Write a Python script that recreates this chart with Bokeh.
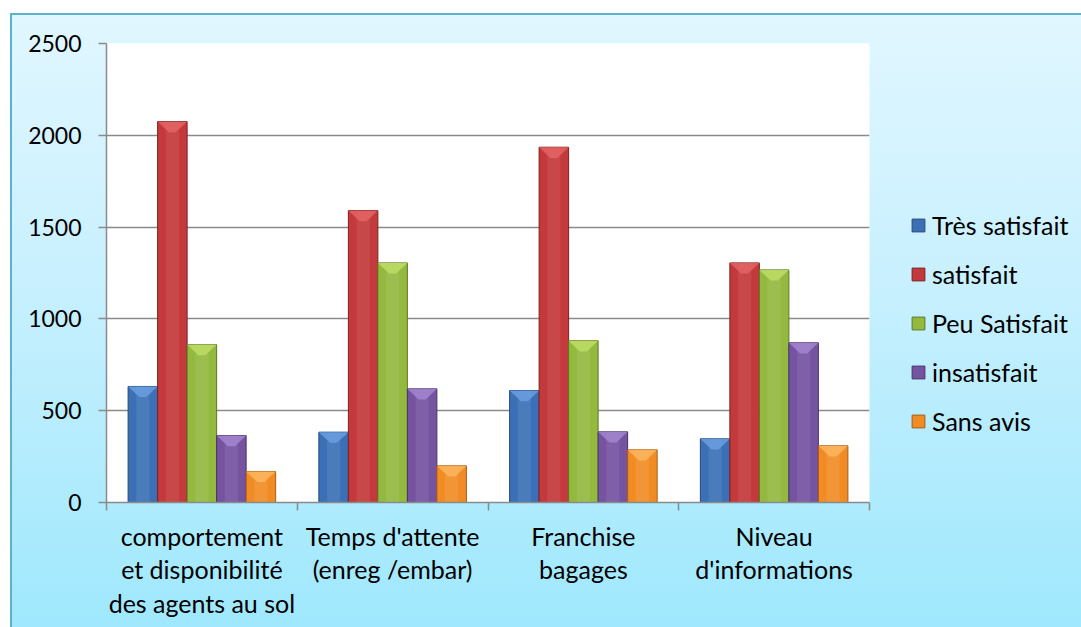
import numpy as np
from bokeh.plotting import figure
from bokeh.models import (ColumnDataSource, FixedTicker, LinearAxis, Legend, LegendItem,
                          Range1d, Grid)
from bokeh.embed import file_html
from bokeh.resources import INLINE

# ---- data -------------------------------------------------------------
categories = [
    "comportement\net disponibilité\ndes agents au sol",
    "Temps d'attente\n(enreg /embar)",
    "Franchise\nbagages",
    "Niveau\nd'informations",
]
series = ["Très satisfait", "satisfait", "Peu Satisfait", "insatisfait", "Sans avis"]
tres_satisfait = [632, 383, 610, 347]
satisfait = [2075, 1590, 1935, 1305]
peu_satisfait = [860, 1305, 881, 1267]
insatisfait = [365, 619, 385, 870]
sans_avis = [169, 200, 287, 309]
y_ticks = [0, 500, 1000, 1500, 2000, 2500]

values = [tres_satisfait, satisfait, peu_satisfait, insatisfait, sans_avis]
fills = ["#3b70b6", "#c4393b", "#93b93f", "#7553a1", "#f18c25"]
tops = ["#6a9fe0", "#e46464", "#bedd66", "#a385d0", "#fbb65e"]
edges = ["#27497a", "#7c2122", "#5c7825", "#49326a", "#a95d15"]

FONT = "Lato"
GRID = "#8a8a8a"

# plot frame is fixed; borders give a 1081 x 627 page
p = figure(frame_width=763, frame_height=459, output_backend="svg", toolbar_location=None,
           x_range=Range1d(0, len(categories)), y_range=Range1d(0, 2500),
           min_border_left=106, min_border_right=212, min_border_top=43,
           min_border_bottom=125, x_axis_type=None, y_axis_type=None)
p.outline_line_color = None
p.border_fill_color = None
p.border_fill_alpha = 0
p.background_fill_color = "white"
p.styles = {
    "background-image": (
        "linear-gradient(to right, #ffffff 10px, transparent 10px),"
        "linear-gradient(to bottom, #ffffff 13px, transparent 13px),"
        "linear-gradient(to right, transparent 10px, #5ab2cb 10px, #5ab2cb 12px, transparent 12px),"
        "linear-gradient(to bottom, transparent 13px, #5ab2cb 13px, #5ab2cb 15px, transparent 15px),"
        "linear-gradient(to bottom, #e2f7ff 0%, #c8f0fe 45%, #9fe8fd 100%)"
    ),
}

# ---- axes -------------------------------------------------------------
yaxis = LinearAxis(ticker=FixedTicker(ticks=y_ticks))
yaxis.axis_line_color = GRID
yaxis.axis_line_width = 1.5
yaxis.major_tick_line_color = GRID
yaxis.major_tick_line_width = 1.5
yaxis.major_tick_out = 8
yaxis.major_tick_in = 0
yaxis.minor_tick_line_color = None
yaxis.major_label_text_font = FONT
yaxis.major_label_text_font_size = "23px"
yaxis.major_label_text_color = "black"
yaxis.major_label_standoff = 17
p.add_layout(yaxis, "left")

# category names centred under each group; tick marks sit on the boundaries
centers = [i + 0.5 for i in range(len(categories))]
bounds = list(range(len(categories) + 1))
xaxis = LinearAxis(ticker=FixedTicker(ticks=centers, minor_ticks=bounds))
xaxis.major_label_overrides = {c: lab for c, lab in zip(centers, categories)}
xaxis.axis_line_color = GRID
xaxis.axis_line_width = 1.5
xaxis.major_tick_line_color = None
xaxis.minor_tick_line_color = GRID
xaxis.minor_tick_line_width = 1.5
xaxis.minor_tick_out = 8
xaxis.minor_tick_in = 0
xaxis.major_tick_out = 8
xaxis.major_tick_in = 0
xaxis.major_label_text_font = FONT
xaxis.major_label_text_font_size = "25px"
xaxis.major_label_text_color = "black"
xaxis.major_label_text_line_height = 1.12
xaxis.major_label_standoff = 10
p.add_layout(xaxis, "below")

# horizontal grid lines
p.add_layout(Grid(dimension=1, ticker=FixedTicker(ticks=y_ticks),
                  grid_line_color=GRID, grid_line_width=1.5))

# ---- bars -------------------------------------------------------------
bw = 0.1547
bevel = 58  # depth of the top facet, in data units
items = []
for k, (name, vals) in enumerate(zip(series, values)):
    xs = np.array(centers) + (k - 2) * bw
    vals = np.array(vals, dtype=float)
    src = ColumnDataSource(dict(x=xs, top=vals))
    r = p.vbar(x="x", top="top", width=bw, source=src, fill_color=fills[k],
               line_color=edges[k], line_width=1)
    # soft highlight down the middle of each bar
    p.vbar(x="x", top="top", width=bw * 0.45, source=src, fill_color="white",
           fill_alpha=0.08, line_color=None)
    # lighter top facet
    px = [[x - bw / 2, x + bw / 2, x + bw * 0.12, x - bw * 0.12] for x in xs]
    py = [[v, v, v - min(bevel, v * 0.45), v - min(bevel, v * 0.45)] for v in vals]
    p.patches(px, py, fill_color=tops[k], fill_alpha=0.85, line_color=None)
    items.append(LegendItem(label=name, renderers=[r]))

legend = Legend(items=items, location=(41, 66))
legend.glyph_width = 16
legend.glyph_height = 16
legend.label_standoff = 6
legend.label_height = 25
legend.spacing = 19
legend.padding = 0
legend.margin = 0
legend.border_line_color = None
legend.background_fill_alpha = 0
legend.label_text_font = FONT
legend.label_text_font_size = "25px"
legend.label_text_color = "black"
p.add_layout(legend, "right")

open("out.html", "w").write(file_html(p, INLINE))
